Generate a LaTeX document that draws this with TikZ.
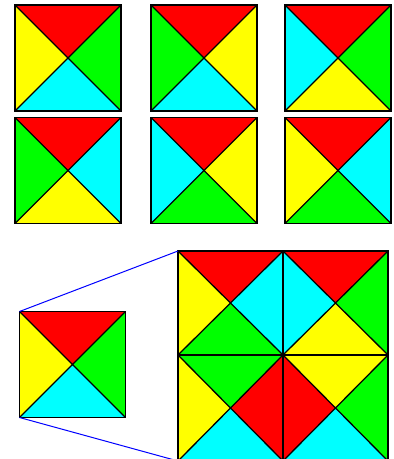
\documentclass[tikz,border=0pt]{standalone}
\begin{document}
\begin{tikzpicture}[x=1pt,y=-1pt,
  sq/.style={inner sep=0pt,outer sep=0pt,minimum width=106pt,minimum height=106pt},
  bigsq/.style={inner sep=0pt,outer sep=0pt,minimum width=105pt,minimum height=104pt},
  lowsq/.style={inner sep=0pt,outer sep=0pt,minimum width=105pt,minimum height=106pt},
  edge/.style={black,line width=1.3pt,line join=miter},
  zoomline/.style={blue,line width=1pt}]
\definecolor{cR}{RGB}{255,0,0}
\definecolor{cG}{RGB}{0,255,0}
\definecolor{cC}{RGB}{0,255,255}
\definecolor{cY}{RGB}{255,255,0}
\newcommand\tilesq[7]{%
  \node[#7] (#1) at (#2) {};
  \fill[#3] (#1.north west) -- (#1.north east) -- (#1.center) -- cycle;
  \fill[#4] (#1.north east) -- (#1.south east) -- (#1.center) -- cycle;
  \fill[#5] (#1.south east) -- (#1.south west) -- (#1.center) -- cycle;
  \fill[#6] (#1.south west) -- (#1.north west) -- (#1.center) -- cycle;
  \draw[edge] (#1.north west) -- (#1.south east) (#1.north east) -- (#1.south west);
  \draw[edge] (#1.north west) rectangle (#1.south east);
}
\useasboundingbox (0,0) rectangle (394,459);
% top rows: name, centre, top, right, bottom, left
\tilesq{a1}{68,58}{cR}{cG}{cC}{cY}{sq}
\tilesq{a2}{204,58}{cR}{cY}{cC}{cG}{sq}
\tilesq{a3}{338,58}{cR}{cG}{cY}{cC}{sq}
\tilesq{b1}{68,170.5}{cR}{cC}{cY}{cG}{sq}
\tilesq{b2}{204,170.5}{cR}{cY}{cG}{cC}{sq}
\tilesq{b3}{338,170.5}{cR}{cC}{cG}{cY}{sq}
% small tile
\tilesq{s}{72.5,364.5}{cR}{cG}{cC}{cY}{sq}
% big 2x2
\tilesq{p1}{230.5,303}{cR}{cC}{cG}{cY}{bigsq}
\tilesq{p2}{335.5,303}{cR}{cG}{cY}{cC}{bigsq}
\tilesq{p3}{230.5,408}{cG}{cR}{cC}{cY}{lowsq}
\tilesq{p4}{335.5,408}{cY}{cG}{cC}{cR}{lowsq}
\draw[zoomline] (s.north west) -- (p1.north west);
\draw[zoomline] (s.south west) -- (p3.south west);
\end{tikzpicture}
\end{document}
